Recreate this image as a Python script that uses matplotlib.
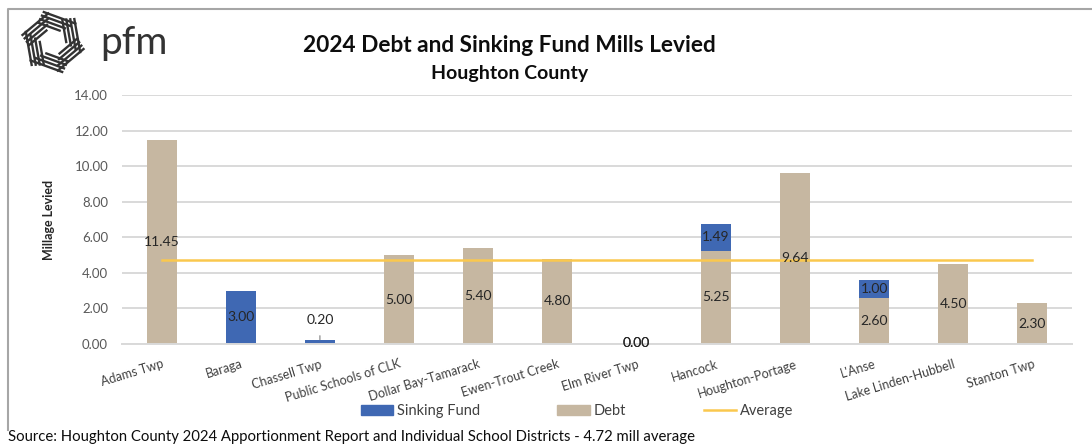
import numpy as np
import matplotlib
matplotlib.use("Agg")
import matplotlib.pyplot as plt
from matplotlib.lines import Line2D
from matplotlib.patches import Patch

plt.rcParams['font.family'] = ['Lato', 'DejaVu Sans']

categories = ["Adams Twp", "Baraga", "Chassell Twp", "Public Schools of CLK",
              "Dollar Bay-Tamarack", "Ewen-Trout Creek", "Elm River Twp", "Hancock",
              "Houghton-Portage", "L'Anse", "Lake Linden-Hubbell", "Stanton Twp"]
debt = [11.45, 0.00, 0.00, 5.00, 5.40, 4.80, 0.00, 5.25, 9.64, 2.60, 4.50, 2.30]
sinking = [0.00, 3.00, 0.20, 0.00, 0.00, 0.00, 0.00, 1.49, 0.00, 1.00, 0.00, 0.00]
average = 4.72
yticks = [0, 2, 4, 6, 8, 10, 12, 14]

BLUE = "#3F68B3"
TAN = "#C6B7A1"
YEL = "#FAC84E"
W, H = 1092, 447

fig = plt.figure(figsize=(W / 100, H / 100), dpi=100)
ax = fig.add_axes([122 / W, 1 - 344 / H, (1072 - 122) / W, (344 - 95) / H])

x = np.arange(len(categories))
bw = 0.38
ax.bar(x, debt, bw, color=TAN, zorder=2, label="Debt")
ax.bar(x, sinking, bw, bottom=debt, color=BLUE, zorder=2, label="Sinking Fund")
ax.plot(x, [average] * len(x), color=YEL, lw=1.8, zorder=3, label="Average")

ax.set_xlim(-0.5, len(x) - 0.5)
ax.set_ylim(0, 14)
ax.set_yticks(yticks)
ax.set_yticklabels([f"{v:.2f}" for v in yticks], color="#595959", fontsize=9.5)
ax.yaxis.grid(True, color="#D9D9D9", lw=1.4, zorder=0)
ax.set_axisbelow(True)
for s in ["top", "right", "left"]:
    ax.spines[s].set_visible(False)
ax.spines["bottom"].set_color("#D9D9D9")
ax.spines["bottom"].set_linewidth(1.4)
ax.tick_params(axis="both", length=0)
ax.tick_params(axis="y", pad=10)
ax.set_xticks(x)
ax.set_xticklabels(categories, rotation=17, ha="right", rotation_mode="anchor",
                   color="#404040", fontsize=9)
ax.tick_params(axis="x", pad=10)
ax.set_ylabel("Millage Levied", fontsize=9, fontweight="bold", color="#262626", labelpad=14)

lc = "#262626"
for i in range(len(x)):
    d, s = debt[i], sinking[i]
    if d > 0:
        ax.text(x[i], d / 2, f"{d:.2f}", ha="center", va="center", fontsize=10, color=lc, zorder=4)
    if s > 0:
        if s < 0.5:
            ax.annotate(f"{s:.2f}", xy=(x[i], d + s), xytext=(x[i], 1.35), ha="center",
                        va="center", fontsize=10, color=lc,
                        arrowprops=dict(arrowstyle="-", color="#7F7F7F", lw=0.8,
                                        shrinkA=5, shrinkB=0.5))
        else:
            ax.text(x[i], d + s / 2, f"{s:.2f}", ha="center", va="center", fontsize=10, color=lc, zorder=4)
    if d == 0 and s == 0:
        for _ in range(2):
            ax.text(x[i], 0.05, "0.00", ha="center", va="center", fontsize=10, color=lc, zorder=4)

# legend
handles = [Patch(color=BLUE), Patch(color=TAN), Line2D([], [], color=YEL, lw=1.8)]
fig.legend(handles, ["Sinking Fund", "Debt", "Average"], loc="center",
           bbox_to_anchor=(577 / W, 1 - 411 / H), ncol=3, frameon=False,
           fontsize=10.5, handlelength=2.2, handleheight=0.75, columnspacing=5.3,
           handletextpad=0.3, labelcolor="#404040")

# titles
fig.text(509 / W, 1 - 45 / H, "2024 Debt and Sinking Fund Mills Levied", ha="center",
         va="center", fontsize=16.3, fontweight="bold", color="#0D0D0D")
fig.text(510 / W, 1 - 74 / H, "Houghton County", ha="center", va="center",
         fontsize=14, fontweight="bold", color="#0D0D0D")
fig.text(8 / W, 1 - 437 / H, "Source: Houghton County 2024 Apportionment Report and Individual School Districts - 4.72 mill average",
         ha="left", va="center", fontsize=10.7, color="#0D0D0D")

# border
fig.add_artist(Line2D([8 / W, 8 / W, 1.0], [1 - 430 / H, 1 - 9 / H, 1 - 9 / H],
                      transform=fig.transFigure, color="#A6A6A6", lw=1.5))

# logo
fig.text(100 / W, 1 - 43 / H, "pfm", ha="left", va="center", fontsize=28, color="#333333")
lax = fig.add_axes([13 / W, 1 - 76 / H, 80 / W, 68 / H])
lax.set_xlim(-40, 40)
lax.set_ylim(-34, 34)
lax.set_aspect("equal")
lax.axis("off")
a = 13.0
for k in range(6):
    th = np.deg2rad(60 * k + 10)
    n = np.array([np.cos(th), np.sin(th)])
    t = np.array([-n[1], n[0]])
    for j in range(4):
        r = a + j * 4.0
        half = r / np.sqrt(3)
        p0 = n * r - t * (half - 4 + j * 1.8)
        p1 = n * r + t * (half + 14 - j * 2.8)
        lax.plot([p0[0], p1[0]], [p0[1], p1[1]], color="#333333", lw=1.7,
                 solid_capstyle="butt")

fig.savefig("out.png", dpi=100)
